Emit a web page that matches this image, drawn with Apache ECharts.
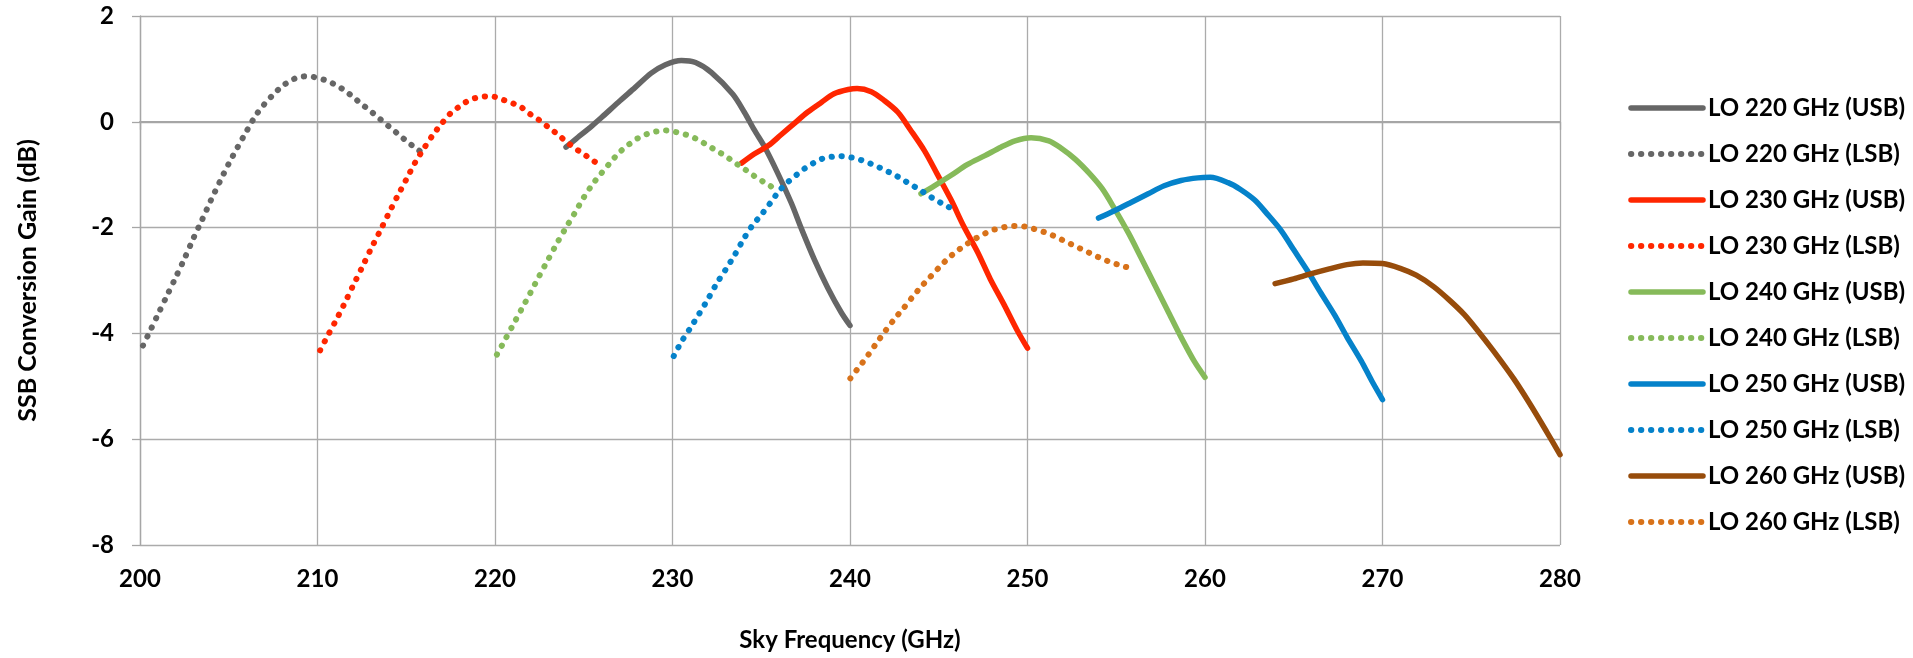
<!DOCTYPE html>
<html>

<head>
    <meta charset="UTF-8">
    <title>SSB Conversion Gain</title>
    <script src="https://cdn.jsdelivr.net/npm/echarts@6/dist/echarts.min.js"></script>
    <style>
        html, body { margin: 0; padding: 0; background: #fff; }
        #main { width: 1913px; height: 658px; }
    </style>
</head>

<body>
    <div id="main"></div>

    <script>
        // x ticks / y ticks
        var freqTicks = [200, 210, 220, 230, 240, 250, 260, 270, 280];
        var gainTicks = [-8, -6, -4, -2, 0, 2];

        var seriesNames = [
            'LO 220 GHz (USB)', 'LO 220 GHz (LSB)',
            'LO 230 GHz (USB)', 'LO 230 GHz (LSB)',
            'LO 240 GHz (USB)', 'LO 240 GHz (LSB)',
            'LO 250 GHz (USB)', 'LO 250 GHz (LSB)',
            'LO 260 GHz (USB)', 'LO 260 GHz (LSB)'
        ];

        // [sky frequency GHz, gain dB]
        var lo220Usb = [[224.0, -0.48], [224.5, -0.34], [225.45, -0.08], [226.0, 0.08], [226.95, 0.37],
            [227.9, 0.65], [228.8, 0.92], [229.6, 1.08], [230.5, 1.16], [231.3, 1.12], [232.2, 0.93],
            [233.4, 0.52], [234.05, 0.18], [234.6, -0.15], [235.2, -0.48], [235.9, -0.95],
            [236.7, -1.54], [237.25, -2.01], [238.0, -2.61], [238.75, -3.14], [239.5, -3.6], [240.0, -3.85]];

        var lo220Lsb = [[200.17, -4.23], [200.5, -4.0], [201.0, -3.65], [201.5, -3.3], [202.0, -2.95],
            [202.5, -2.59], [203.0, -2.21], [203.5, -1.85], [204.0, -1.48], [204.5, -1.13], [205.0, -0.79],
            [205.5, -0.48], [206.0, -0.18], [206.5, 0.11], [207.0, 0.33], [207.5, 0.51], [208.0, 0.67],
            [208.5, 0.78], [209.0, 0.85], [209.5, 0.86], [210.0, 0.83], [210.5, 0.78], [211.0, 0.7],
            [211.5, 0.6], [212.0, 0.47], [212.5, 0.33], [213.0, 0.2], [213.5, 0.06], [214.0, -0.08],
            [214.5, -0.22], [215.0, -0.36], [215.5, -0.49], [216.0, -0.61]];

        var lo230Usb = [[233.9, -0.78], [234.6, -0.61], [235.4, -0.45], [236.1, -0.25], [236.9, -0.02],
            [237.6, 0.18], [238.4, 0.37], [239.1, 0.53], [239.9, 0.61], [240.4, 0.63], [241.2, 0.57],
            [241.9, 0.41], [242.7, 0.18], [243.4, -0.15], [244.2, -0.55], [244.9, -0.98], [245.7, -1.48],
            [246.4, -1.97], [247.2, -2.47], [247.9, -2.97], [248.7, -3.47], [249.4, -3.93], [250.0, -4.28]];

        var lo230Lsb = [[210.15, -4.32], [210.5, -4.09], [211.0, -3.78], [211.5, -3.45], [212.0, -3.1],
            [212.5, -2.76], [213.0, -2.41], [213.5, -2.08], [214.0, -1.74], [214.5, -1.41], [215.0, -1.09],
            [215.5, -0.77], [216.0, -0.5], [216.5, -0.25], [217.0, -0.03], [217.5, 0.16], [218.0, 0.29],
            [218.5, 0.4], [219.0, 0.46], [219.5, 0.48], [220.0, 0.47], [220.5, 0.41], [221.0, 0.35],
            [221.5, 0.27], [222.0, 0.14], [222.5, 0.03], [223.0, -0.1], [223.5, -0.23], [224.0, -0.37],
            [224.5, -0.5], [225.0, -0.61], [225.5, -0.73], [226.0, -0.83]];

        var lo240Usb = [[244.0, -1.36], [244.75, -1.21], [245.7, -1.01], [246.6, -0.81], [247.6, -0.64],
            [248.5, -0.48], [249.3, -0.36], [250.2, -0.3], [251.2, -0.36], [251.9, -0.5], [252.7, -0.71],
            [253.5, -0.98], [254.2, -1.26], [254.9, -1.64], [255.7, -2.11], [256.4, -2.57], [257.15, -3.07],
            [257.9, -3.57], [258.65, -4.07], [259.4, -4.53], [260.0, -4.83]];

        var lo240Lsb = [[220.11, -4.4], [220.5, -4.16], [221.0, -3.85], [221.5, -3.54], [222.0, -3.23],
            [222.5, -2.91], [223.0, -2.6], [223.5, -2.29], [224.0, -2.0], [224.5, -1.72], [225.0, -1.43],
            [225.5, -1.18], [226.0, -0.97], [226.5, -0.77], [227.0, -0.58], [227.5, -0.44], [228.0, -0.32],
            [228.5, -0.24], [229.0, -0.19], [229.5, -0.16], [230.0, -0.18], [230.5, -0.22], [231.0, -0.27],
            [231.5, -0.35], [232.0, -0.45], [232.5, -0.55], [233.0, -0.65], [233.5, -0.77], [234.0, -0.88],
            [234.5, -1.0], [235.0, -1.11], [235.5, -1.21], [236.0, -1.33]];

        var lo250Usb = [[254.0, -1.82], [254.9, -1.68], [255.8, -1.53], [256.8, -1.36], [257.7, -1.21],
            [258.65, -1.11], [259.6, -1.06], [260.3, -1.05], [261.3, -1.15], [262.0, -1.28], [262.8, -1.48],
            [263.5, -1.74], [264.3, -2.06], [265.0, -2.42], [265.8, -2.83], [266.5, -3.22], [267.3, -3.65],
            [268.0, -4.07], [268.8, -4.52], [269.4, -4.9], [270.0, -5.25]];

        var lo250Lsb = [[230.07, -4.43], [230.5, -4.16], [231.0, -3.9], [231.5, -3.63], [232.0, -3.35],
            [232.5, -3.05], [233.0, -2.79], [233.5, -2.52], [234.0, -2.22], [234.5, -1.96], [235.0, -1.76],
            [235.5, -1.54], [236.0, -1.31], [236.5, -1.14], [237.0, -1.0], [237.5, -0.87], [238.0, -0.77],
            [238.5, -0.69], [239.0, -0.66], [239.5, -0.65], [240.0, -0.67], [240.5, -0.71], [241.0, -0.77],
            [241.5, -0.84], [242.0, -0.92], [242.5, -1.0], [243.0, -1.1], [243.5, -1.2], [244.0, -1.3],
            [244.5, -1.41], [245.0, -1.51], [245.5, -1.6], [246.0, -1.69]];

        var lo260Usb = [[263.95, -3.06], [265.0, -2.97], [265.9, -2.88], [267.0, -2.78], [268.0, -2.7],
            [268.9, -2.67], [270.0, -2.68], [271.0, -2.77], [271.9, -2.9], [272.9, -3.12], [273.8, -3.38],
            [274.6, -3.64], [275.3, -3.92], [276.25, -4.33], [277.4, -4.86], [278.3, -5.33], [279.25, -5.86],
            [280.0, -6.29]];

        var lo260Lsb = [[240.02, -4.85], [240.5, -4.64], [241.0, -4.42], [241.5, -4.18], [242.0, -3.95],
            [242.5, -3.73], [243.0, -3.53], [243.5, -3.32], [244.0, -3.12], [244.5, -2.94], [245.0, -2.76],
            [245.5, -2.59], [246.0, -2.45], [246.5, -2.33], [247.0, -2.22], [247.5, -2.13], [248.0, -2.05],
            [248.5, -2.01], [249.0, -1.97], [249.5, -1.97], [250.0, -1.99], [250.5, -2.04], [251.0, -2.09],
            [251.5, -2.16], [252.0, -2.24], [252.5, -2.32], [253.0, -2.4], [253.5, -2.48], [254.0, -2.56],
            [254.5, -2.63], [255.0, -2.69], [255.5, -2.74], [256.0, -2.78]];

        var seriesData = [lo220Usb, lo220Lsb, lo230Usb, lo230Lsb, lo240Usb, lo240Lsb,
            lo250Usb, lo250Lsb, lo260Usb, lo260Lsb];
        var seriesColors = ['#666666', '#666666', '#FF2600', '#FF2600', '#86BA5A', '#86BA5A',
            '#0582CA', '#0582CA', '#974C0B', '#D8721A'];

        var font = 'Lato';
        var myChart = echarts.init(document.getElementById('main'), null, { renderer: 'canvas' });

        function lineStyleFor(i) {
            var dotted = seriesNames[i].indexOf('LSB') >= 0;
            return {
                color: seriesColors[i],
                width: dotted ? 6 : 5.5,
                cap: 'round',
                join: 'round',
                type: dotted ? [0.3, 9.7] : 'solid'
            };
        }

        var series = seriesNames.map(function (name, i) {
            return {
                name: name,
                type: 'line',
                data: seriesData[i],
                smooth: 0.3,
                symbol: 'none',
                showSymbol: false,
                lineStyle: lineStyleFor(i),
                itemStyle: { color: seriesColors[i] }
            };
        });

        var legendData = seriesNames.map(function (name, i) {
            return {
                name: name,
                itemStyle: { opacity: 0 },
                lineStyle: lineStyleFor(i)
            };
        });

        option = {
            animation: false,
            backgroundColor: '#fff',
            grid: {
                left: 140,
                right: 353,
                top: 16,
                bottom: 113
            },
            legend: {
                orient: 'vertical',
                left: 1623,
                top: 91,
                itemWidth: 72,
                itemHeight: 24,
                itemGap: 22,
                data: legendData,
                textStyle: {
                    fontFamily: font,
                    fontWeight: 'bold',
                    fontSize: 24,
                    color: '#000'
                }
            },
            xAxis: {
                type: 'value',
                min: freqTicks[0],
                max: freqTicks[freqTicks.length - 1],
                interval: freqTicks[1] - freqTicks[0],
                name: 'Sky Frequency (GHz)',
                nameLocation: 'middle',
                nameGap: 83,
                nameTextStyle: { fontFamily: font, fontWeight: 'bold', fontSize: 24, color: '#000' },
                axisLine: { lineStyle: { color: '#A6A6A6', width: 2 } },
                axisTick: { show: true, length: 8, lineStyle: { color: '#A6A6A6', width: 1.3 } },
                axisLabel: { margin: 22, fontFamily: font, fontWeight: 'bold', fontSize: 24, color: '#000' },
                splitLine: { show: true, lineStyle: { color: '#ABABAB', width: 1.3 } }
            },
            yAxis: {
                type: 'value',
                min: gainTicks[0],
                max: gainTicks[gainTicks.length - 1],
                interval: gainTicks[1] - gainTicks[0],
                name: 'SSB Conversion Gain (dB)',
                nameLocation: 'middle',
                nameGap: 100,
                nameTextStyle: { fontFamily: font, fontWeight: 'bold', fontSize: 25, color: '#000' },
                axisLine: { show: true, lineStyle: { color: '#A6A6A6', width: 1.3 } },
                axisTick: { show: true, length: 8, lineStyle: { color: '#A6A6A6', width: 1.3 } },
                axisLabel: { margin: 26, fontFamily: font, fontWeight: 'bold', fontSize: 24, color: '#000' },
                splitLine: { show: true, lineStyle: { color: '#ABABAB', width: 1.3 } }
            },
            series: series
        };

        myChart.setOption(option);
    </script>
</body>

</html>
